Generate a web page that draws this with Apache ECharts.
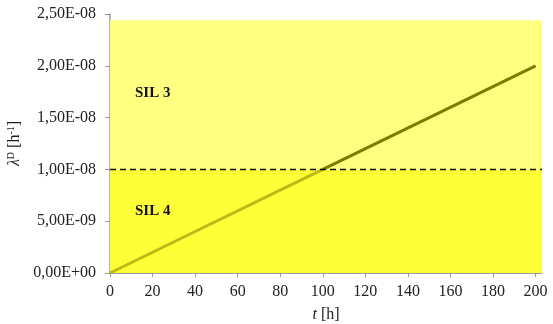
<!DOCTYPE html>
<html><head><meta charset="utf-8">
<script src="https://cdn.jsdelivr.net/npm/echarts@6/dist/echarts.min.js"></script>
<style>html,body{margin:0;padding:0;background:#fff}#c{width:553px;height:324px}</style>
</head><body><div id="c"></div>
<script>
const tValues = [0, 100, 200];
const lambdaValues = [0, 1.0e-8, 2.0e-8];
const xTicks = [0, 20, 40, 60, 80, 100, 120, 140, 160, 180, 200];
const silBoundary = 1.0e-8;
const silTop = 2.44e-8;
const xEnd = 203;
const silLabels = ['SIL 3', 'SIL 4'];

function fmt(v) {
  if (v === 0) return '0,00E+00';
  const s = v.toExponential(2);
  const [m, e] = s.split('e');
  const en = parseInt(e, 10);
  const sign = en < 0 ? '-' : '+';
  const ea = String(Math.abs(en)).padStart(2, '0');
  return m.replace('.', ',') + 'E' + sign + ea;
}

const pts = tValues.map((t, i) => [t, lambdaValues[i]]);
const lowPts = pts.filter(p => p[1] <= silBoundary);
const highPts = pts.filter(p => p[1] >= silBoundary);

const chart = echarts.init(document.getElementById('c'));
const font = 'Liberation Serif';
chart.setOption({
  animation: false,
  grid: { left: 110, right: 11, top: 14, bottom: 51, outerBoundsMode: 'none', containLabel: false },
  xAxis: {
    type: 'value', min: 0, max: xEnd,
    name: '{i|t} [h]', nameLocation: 'middle', nameGap: 34,
    nameTextStyle: { fontFamily: font, fontSize: 16, color: '#222',
      rich: { i: { fontStyle: 'italic', fontFamily: font, fontSize: 16, color: '#222' } } },
    axisLine: { lineStyle: { color: '#9a9a9a', width: 1 } },
    axisTick: { show: true, length: 4, lineStyle: { color: '#9a9a9a' }, customValues: xTicks },
    axisLabel: { fontFamily: font, fontSize: 16, color: '#222', margin: 11, customValues: xTicks },
    splitLine: { show: false }
  },
  yAxis: {
    type: 'value', min: 0, max: 2.5e-8, interval: 5e-9,
    name: '{i|λ}{s|D} [h{s|-1}]', nameLocation: 'middle', nameGap: 86,
    nameTextStyle: { fontFamily: font, fontSize: 16, color: '#222',
      rich: { i: { fontStyle: 'italic', fontFamily: font, fontSize: 16, color: '#222' },
              s: { fontFamily: font, fontSize: 10, color: '#222', verticalAlign: 'top', padding: [0,0,6,0] } } },
    axisLine: { show: true, lineStyle: { color: '#9a9a9a', width: 1.5 } },
    axisTick: { show: true, length: 5, lineStyle: { color: '#9a9a9a' } },
    axisLabel: { fontFamily: font, fontSize: 16, color: '#222', margin: 14, formatter: fmt },
    splitLine: { show: false }
  },
  series: [
    {
      type: 'line', data: [], silent: true, z: 1,
      markArea: {
        silent: true,
        data: [
          [{ yAxis: silBoundary, itemStyle: { color: '#ffff80' },
             label: { show: true, position: 'insideLeft', distance: 25, formatter: silLabels[0],
               fontFamily: font, fontWeight: 'bold', fontSize: 15, color: '#111', offset: [0, -2] } },
           { yAxis: silTop }],
          [{ yAxis: 0, itemStyle: { color: '#ffff38' },
             label: { show: true, position: 'insideLeft', distance: 25, formatter: silLabels[1],
               fontFamily: font, fontWeight: 'bold', fontSize: 15, color: '#111', offset: [0, -10] } },
           { yAxis: silBoundary }]
        ]
      }
    },
    {
      type: 'line', data: lowPts, showSymbol: false, symbol: 'none', z: 5,
      lineStyle: { width: 3, color: '#c0b818' }
    },
    {
      type: 'line', data: highPts, showSymbol: false, symbol: 'none', z: 5,
      lineStyle: { width: 3, color: '#7c7a00' }
    },
    {
      type: 'line', data: [[0, silBoundary], [xEnd, silBoundary]], silent: true, z: 6,
      showSymbol: false, symbol: 'none',
      lineStyle: { color: '#111', type: [6, 4], width: 1.5 }
    }
  ]
});
</script>
</body></html>
